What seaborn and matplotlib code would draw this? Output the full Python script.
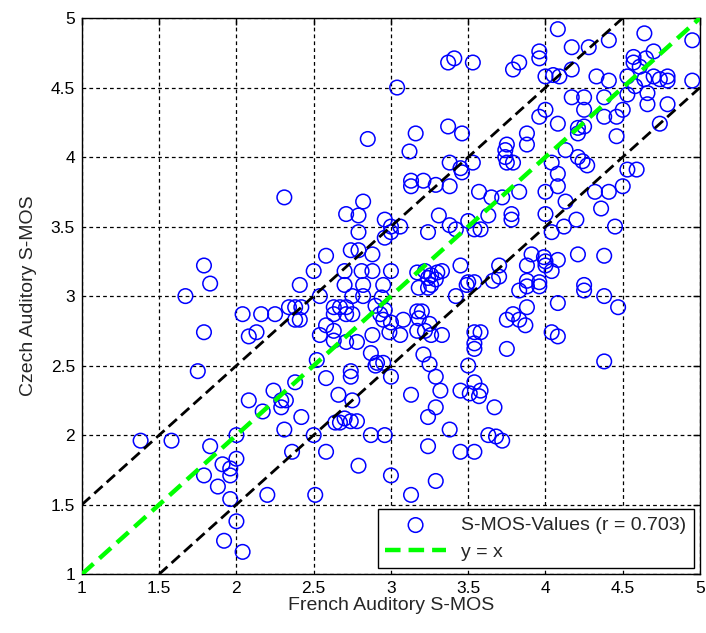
import matplotlib
matplotlib.use("Agg")
import matplotlib.pyplot as plt
import pandas as pd
import seaborn as sns


# French vs Czech auditory S-MOS scatter

french_smos = [
    3.37, 3.41, 3.53, 3.04, 2.85, 3.16, 3.37, 3.46, 3.12,
    4.08, 4.17, 4.28, 4.41, 4.64, 4.95, 3.96, 3.96, 3.83, 3.79, 4.17,
    4.00, 4.05, 4.09, 4.33, 4.41, 4.53, 4.57, 4.57, 4.65, 4.70, 4.61,
    4.64, 4.70, 4.74, 4.79, 4.79, 4.95, 4.58, 4.53, 4.66, 4.66, 4.79,
    4.17, 4.25, 4.38, 4.25, 4.00, 3.96, 4.08, 4.25, 4.21, 4.38, 4.46,
    4.50, 4.74, 3.88, 3.88, 3.75, 4.46, 4.13, 4.21,
    2.31, 1.79, 1.83,
    3.38, 3.45, 3.46, 3.53, 3.13, 3.13, 3.21, 3.29, 3.38, 3.57, 3.65,
    2.82, 2.71, 2.79, 3.31, 3.63, 2.96, 3.00, 3.06, 2.96, 2.79, 3.00,
    3.24, 3.38, 3.42, 3.50, 3.54, 3.58, 2.74, 2.79, 2.88, 2.58, 2.50,
    2.70, 2.81, 2.88, 3.00, 3.17, 3.22, 3.26, 3.30, 3.33, 3.24, 3.29,
    3.45, 2.41, 2.70, 2.82, 2.95, 3.50, 3.54, 3.66,
    3.74, 3.74, 3.75, 3.79, 4.21, 4.24, 4.27, 4.04, 4.08, 4.08, 4.00,
    3.83, 3.72, 4.13, 4.32, 4.41, 4.50, 4.53, 4.59, 4.36, 4.00, 3.78,
    3.78, 4.20, 4.12, 4.04, 4.45, 3.91, 3.99, 4.00, 4.00, 4.08, 4.21,
    4.38, 3.88, 4.04, 3.70, 3.70, 3.88, 3.96, 4.25,
    1.67, 1.79, 1.75, 2.04, 2.16, 2.25, 2.13, 2.08, 2.24, 2.08, 2.29,
    2.29, 2.17, 2.34,
    2.38, 2.42, 2.38, 2.41, 2.54, 2.82, 2.75, 2.94, 2.63, 2.67, 2.71,
    2.63, 2.71, 2.75, 2.90, 2.93, 2.96, 2.95, 3.00, 3.08, 3.17, 3.20,
    3.18, 3.17, 3.22, 3.25, 3.26, 3.33, 3.18, 3.24, 3.26, 3.42, 3.49,
    2.58, 2.63, 2.54, 2.63, 2.71, 2.78, 2.88, 2.99, 3.06, 2.87, 2.91,
    2.95, 2.90, 2.52, 2.74, 2.74, 2.58, 3.00, 3.21, 3.25, 3.29, 3.32,
    3.13, 2.66, 2.75, 2.38, 3.54, 3.58, 3.54, 3.54, 3.50, 3.54, 3.45,
    3.51, 3.58, 3.57, 3.67, 3.29, 2.70, 2.78, 2.42, 3.24, 2.32,
    3.83, 3.88, 3.96, 4.25, 4.38, 4.47, 4.08, 3.88, 3.79, 3.75, 3.83,
    3.87, 4.04, 4.08, 3.75, 4.38,
    1.38, 1.58, 2.00, 1.83, 2.31, 2.00, 1.91, 1.96, 1.96, 1.79, 1.88,
    1.96, 2.20, 2.00, 1.92, 2.04, 2.36,
    2.64, 2.67, 2.74, 2.50, 2.87, 2.96, 3.38, 3.63, 2.58, 2.79, 3.24,
    3.45, 3.54, 3.00, 3.29, 3.13, 2.51, 3.68, 3.72,
]

czech_smos = [
    4.68, 4.71, 4.68, 4.50, 4.13, 4.17, 4.22, 4.17, 4.04,
    4.92, 4.79, 4.79, 4.84, 4.89, 4.84, 4.76, 4.71, 4.68, 4.63, 4.63,
    4.58, 4.59, 4.58, 4.58, 4.55, 4.58, 4.72, 4.68, 4.71, 4.76, 4.65,
    4.56, 4.58, 4.56, 4.58, 4.55, 4.55, 4.51, 4.45, 4.46, 4.38, 4.38,
    4.43, 4.43, 4.43, 4.34, 4.34, 4.29, 4.24, 4.22, 4.21, 4.29, 4.29,
    4.34, 4.24, 4.17, 4.09, 4.09, 4.15, 4.05, 4.17,
    3.71, 3.22, 3.09,
    3.96, 3.92, 3.89, 3.96, 3.83, 3.79, 3.83, 3.80, 3.79, 3.75, 3.71,
    3.68, 3.59, 3.58, 3.58, 3.58, 3.55, 3.50, 3.50, 3.42, 3.46, 3.46,
    3.46, 3.51, 3.48, 3.54, 3.48, 3.48, 3.33, 3.33, 3.30, 3.29, 3.18,
    3.18, 3.18, 3.18, 3.18, 3.17, 3.18, 3.15, 3.17, 3.18, 3.13, 3.12,
    3.22, 3.08, 3.08, 3.08, 3.08, 3.10, 3.10, 3.11,
    4.05, 4.00, 3.96, 3.96, 4.00, 3.97, 3.94, 3.96, 3.88, 3.79, 3.75,
    3.75, 3.71, 3.68, 3.75, 3.75, 3.79, 3.91, 3.91, 3.63, 3.59, 3.59,
    3.55, 3.55, 3.50, 3.46, 3.50, 3.30, 3.28, 3.25, 3.22, 3.26, 3.30,
    3.29, 3.22, 3.18, 3.22, 3.14, 3.11, 3.10, 3.08,
    3.00, 2.74, 2.46, 2.87, 2.87, 2.87, 2.74, 2.71, 2.32, 2.25, 2.25,
    2.20, 2.17, 2.92,
    2.92, 2.92, 2.83, 2.83, 3.00, 3.00, 3.00, 2.99, 2.92, 2.92, 2.92,
    2.87, 2.87, 2.87, 2.93, 2.87, 2.90, 2.83, 2.81, 2.83, 2.89, 2.89,
    2.84, 2.75, 2.75, 2.80, 2.72, 2.72, 3.06, 3.06, 3.08, 3.00, 3.08,
    2.79, 2.75, 2.72, 2.68, 2.67, 2.67, 2.72, 2.74, 2.72, 2.59, 2.52,
    2.52, 2.50, 2.54, 2.46, 2.42, 2.41, 2.42, 2.58, 2.51, 2.42, 2.32,
    2.29, 2.29, 2.25, 2.38, 2.74, 2.74, 2.66, 2.62, 2.50, 2.38, 2.32,
    2.30, 2.32, 2.28, 2.20, 2.20, 2.12, 2.10, 2.13, 2.13, 2.25,
    3.04, 3.07, 3.07, 3.04, 3.00, 2.92, 2.95, 2.92, 2.87, 2.83, 2.83,
    2.79, 2.74, 2.71, 2.62, 2.53,
    1.96, 1.96, 2.00, 1.92, 2.04, 1.83, 1.79, 1.76, 1.71, 1.71, 1.63,
    1.54, 1.57, 1.38, 1.24, 1.16, 1.88,
    2.09, 2.09, 2.10, 2.00, 2.00, 2.00, 2.04, 2.00, 1.88, 1.78, 1.92,
    1.88, 1.88, 1.71, 1.67, 1.57, 1.57, 1.99, 1.96,
]

diagonal = [1, 5]
band_offset = 0.5
tick_values = [1, 1.5, 2, 2.5, 3, 3.5, 4, 4.5, 5]
tick_labels = ["1", "1.5", "2", "2.5", "3", "3.5", "4", "4.5", "5"]

sns.set_style("white")
plt.rcParams["font.family"] = ["Liberation Sans", "DejaVu Sans"]

df = pd.DataFrame({"french": french_smos, "czech": czech_smos})
line_df = pd.DataFrame({"x": diagonal, "y": diagonal})

fig = plt.figure(figsize=(7.06, 6.33), dpi=100)
ax = fig.add_axes([0.116, 0.093, 0.8755, 0.8785])

sns.scatterplot(
    data=df, x="french", y="czech", ax=ax,
    marker="o", s=110, facecolors="none", edgecolor="#0000ff", linewidth=1.1,
    label="S-MOS-Values (r = 0.703)", zorder=3,
)

# +/- 0.5 band around the diagonal
ax.axline((diagonal[0], diagonal[0] + band_offset), slope=1, color="black",
          lw=2.0, ls=(0, (4, 2)), zorder=4)
ax.axline((diagonal[0] + band_offset, diagonal[0]), slope=1, color="black",
          lw=2.0, ls=(0, (4, 2)), zorder=4)

sns.lineplot(data=line_df, x="x", y="y", ax=ax, color="#00ff00", lw=3.2,
             ls=(0, (3.5, 1.8)), label="y = x", zorder=5)

ax.set_xlim(1, 5)
ax.set_ylim(1, 5)
ax.set_xticks(tick_values)
ax.set_xticklabels(tick_labels)
ax.set_yticks(tick_values)
ax.set_yticklabels(tick_labels)
ax.tick_params(direction="in", length=5, width=1, top=True, right=True,
               labelsize=12.5, colors="black", pad=5)
ax.grid(True, color="black", lw=0.9, ls=(0, (3, 2.5)))
for spine in ax.spines.values():
    spine.set_color("black")
    spine.set_linewidth(1.0)

ax.set_xlabel("French Auditory S-MOS", fontsize=14, labelpad=1)
ax.set_ylabel("Czech Auditory S-MOS", fontsize=14, labelpad=10)

leg = ax.legend(loc="lower right", fontsize=14, handlelength=3.1,
                fancybox=False, framealpha=1, edgecolor="black",
                borderaxespad=0.3, labelspacing=0.45, borderpad=0.4)
leg.get_frame().set_linewidth(1.0)

fig.savefig("out.png", dpi=100)
